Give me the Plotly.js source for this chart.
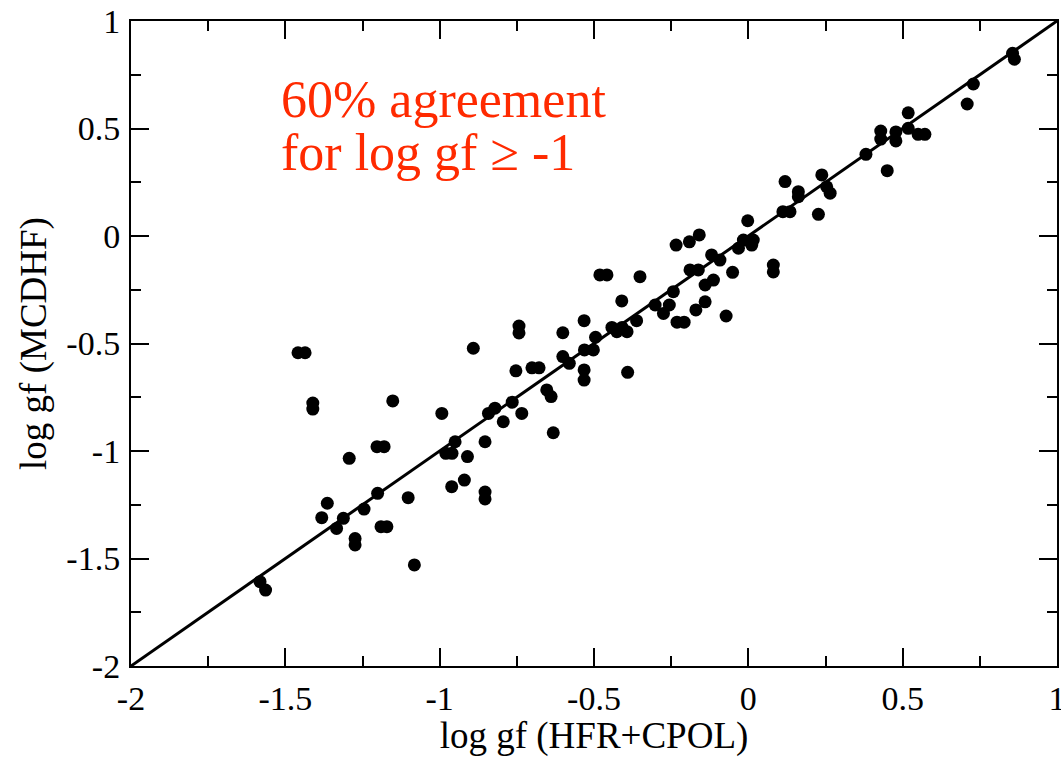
<!DOCTYPE html>
<html>
<head>
<meta charset="utf-8">
<script src="https://cdn.plot.ly/plotly-3.0.1.min.js"></script>
<style>html,body{margin:0;padding:0;background:#fff;}#chart{width:1061px;height:757px;}</style>
</head>
<body>
<div id="chart"></div>
<script>
// log gf (HFR+CPOL)
const hfrCpol = [
-1.459,-1.436,-0.891,-1.411,-1.411,-1.152,-0.993,-0.842,-0.821,-0.794,
-1.203,-1.180,-1.293,-0.950,-0.980,-0.960,-0.910,-0.853,-0.920,-0.961,
-0.853,-0.853,-1.201,-1.102,-1.364,-1.382,-1.312,-1.334,-1.245,-1.190,
-1.171,-1.274,-1.274,-1.082,-1.582,-1.564,-0.481,-0.458,-0.351,-0.410,
-0.532,-0.743,-0.743,-0.601,-0.495,-0.442,-0.409,-0.426,-0.393,-0.531,
-0.502,-0.601,-0.580,-0.753,-0.701,-0.678,-0.532,-0.532,-0.391,-0.653,
-0.639,-0.765,-0.734,-0.632,0.119,0.238,0.265,0.254,0.162,0.162,
0.112,0.135,0.227,-0.002,-0.016,0.016,-0.032,0.011,-0.159,-0.191,
-0.234,-0.119,-0.092,-0.189,-0.162,-0.051,0.081,0.081,-0.140,-0.113,
-0.243,-0.302,-0.256,-0.275,-0.140,-0.170,-0.231,-0.208,-0.072,-0.362,
0.856,0.862,0.729,0.709,0.518,0.518,0.550,0.572,0.478,0.478,
0.429,0.429,0.381,0.450
];
// log gf (MCDHF)
const mcdhf = [
-0.543,-0.543,-0.522,-0.777,-0.805,-0.767,-0.825,-0.825,-0.801,-0.864,
-0.980,-0.980,-1.034,-0.957,-1.011,-1.011,-1.026,-0.957,-1.135,-1.166,
-1.191,-1.223,-1.197,-1.217,-1.243,-1.310,-1.313,-1.360,-1.270,-1.352,
-1.352,-1.407,-1.437,-1.530,-1.608,-1.647,-0.181,-0.181,-0.189,-0.302,
-0.394,-0.419,-0.451,-0.450,-0.471,-0.425,-0.425,-0.445,-0.445,-0.530,
-0.530,-0.561,-0.592,-0.627,-0.613,-0.613,-0.623,-0.670,-0.634,-0.716,
-0.747,-0.773,-0.825,-0.915,0.253,0.284,0.199,0.229,0.206,0.183,
0.113,0.113,0.101,0.071,-0.019,-0.019,-0.057,-0.042,0.005,-0.027,
-0.042,-0.088,-0.112,-0.158,-0.158,-0.169,-0.135,-0.167,-0.228,-0.205,
-0.259,-0.321,-0.321,-0.360,-0.306,-0.344,-0.401,-0.401,-0.372,-0.394,
0.850,0.822,0.707,0.614,0.573,0.501,0.473,0.473,0.484,0.442,
0.488,0.451,0.380,0.304
];
// y = x reference line
const lineX = [-2, 1];
const lineY = [-2, 1];
const axisRange = [-2, 1];
const tickVals = [-2, -1.5, -1, -0.5, 0, 0.5, 1];
const tickText = ['-2', '-1.5', '-1', '-0.5', '0', '0.5', '1'];
const xTitle = 'log gf (HFR+CPOL)';
const yTitle = 'log gf (MCDHF)';
const noteLines = ['60% agreement', 'for log gf \u2265 -1'];

const serif = 'Liberation Serif, Times New Roman, serif';

const traces = [
  {x: lineX, y: lineY, mode: 'lines', line: {color: '#000', width: 3}, hoverinfo: 'skip', showlegend: false},
  {x: hfrCpol, y: mcdhf, mode: 'markers', marker: {color: '#000', size: 13}, showlegend: false}
];

function axis(titleText, standoff) {
  return {
    range: axisRange,
    tickvals: tickVals,
    ticktext: tickText,
    ticks: 'inside',
    ticklen: 18,
    tickwidth: 2,
    tickcolor: '#000',
    minor: {dtick: 0.25, tick0: 0, ticks: 'inside', ticklen: 10, tickwidth: 2, tickcolor: '#000'},
    showline: true,
    linecolor: '#000',
    linewidth: 2,
    mirror: 'ticks',
    showgrid: false,
    zeroline: false,
    ticklabeloverflow: 'allow',
    tickfont: {family: serif, size: 34, color: '#000'},
    title: {text: titleText, font: {family: serif, size: 37, color: '#000'}, standoff: standoff},
    automargin: false
  };
}

const layout = {
  width: 1061,
  height: 757,
  margin: {l: 131, r: 4, t: 21, b: 91},
  paper_bgcolor: '#fff',
  plot_bgcolor: '#fff',
  xaxis: Object.assign(axis(xTitle, 8), {ticklabelstandoff: 1}),
  yaxis: Object.assign(axis(yTitle, 8), {ticklabelstandoff: 2}),
  annotations: [
    {xref: 'paper', yref: 'paper', x: (279 - 131) / 926, y: 1 - (130 - 21) / 645, xanchor: 'left', yanchor: 'bottom',
     text: noteLines[0], showarrow: false, font: {family: serif, size: 52, color: '#ff2a00'}},
    {xref: 'paper', yref: 'paper', x: (279 - 131) / 926, y: 1 - (183 - 21) / 645, xanchor: 'left', yanchor: 'bottom',
     text: noteLines[1], showarrow: false, font: {family: serif, size: 52, color: '#ff2a00'}}
  ]
};

Plotly.newPlot('chart', traces, layout, {displayModeBar: false, staticPlot: true});
</script>
</body>
</html>
